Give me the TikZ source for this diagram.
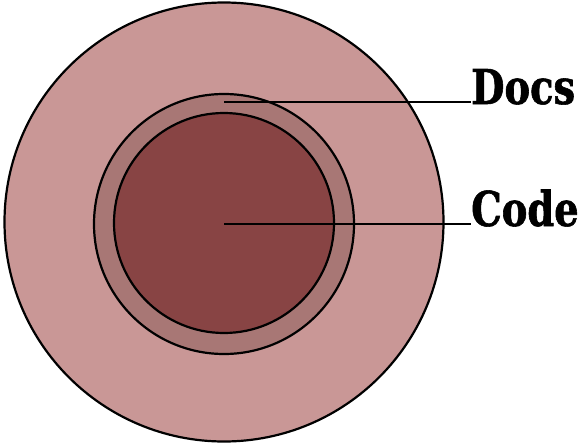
\documentclass[tikz,border=0pt]{standalone}
\usepackage{fontspec}
\newfontfamily\labelfont[FakeStretch=0.80,FakeBold=1.2]{DejaVu Serif Bold}
\definecolor{outerc}{RGB}{201,151,150}
\definecolor{midc}{RGB}{168,119,117}
\definecolor{innerc}{RGB}{136,68,68}
\tikzset{
  ring/.style={draw=black, line width=2.2pt},
  leader/.style={draw=black, line width=2pt},
  lbl/.style={font=\labelfont\fontsize{48}{48}\selectfont, inner sep=0pt, anchor=base west}
}
\begin{document}
\begin{tikzpicture}[x=1pt,y=-1pt]
\useasboundingbox (0,0) rectangle (581,444);
\draw[ring, fill=outerc] (224,222) circle (219.5);
\draw[ring, fill=midc] (224,224) circle (130);
\draw[ring, fill=innerc] (224,223) circle (110);
\coordinate (d0) at (224,102);
\coordinate (c0) at (224,224);
\node[lbl] (docs) at (471,104) {Docs};
\node[lbl] (code) at (471,226) {Code};
\draw[leader] (d0) -- (d0 -| docs.west);
\draw[leader] (c0) -- (c0 -| code.west);
\end{tikzpicture}
\end{document}
